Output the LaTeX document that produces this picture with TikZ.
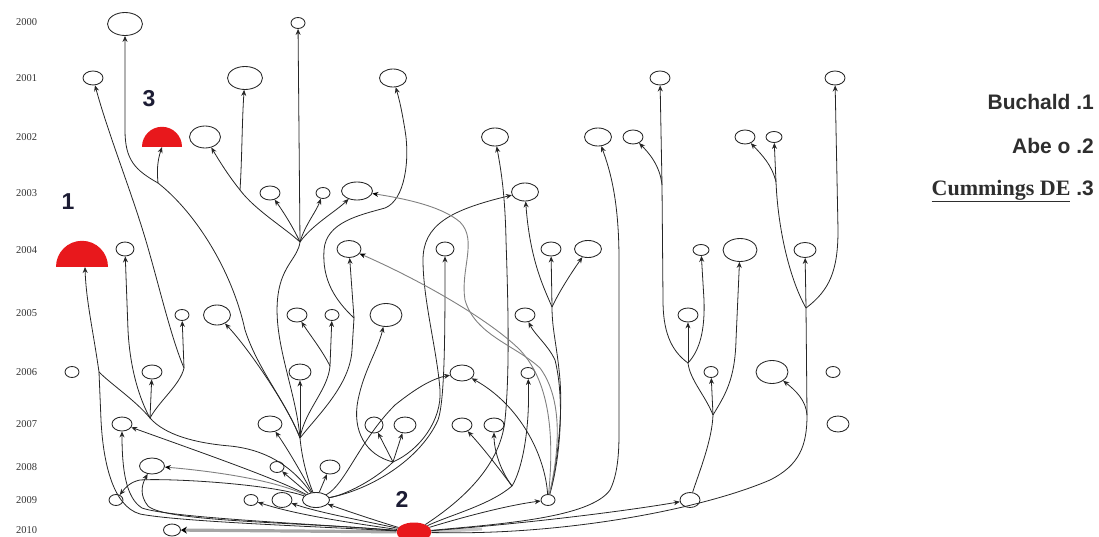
\documentclass[tikz,border=0pt]{standalone}
\usepackage{fontspec}
\usetikzlibrary{shapes.geometric,arrows.meta}
\newfontfamily\yrfont{Liberation Serif}
\newfontfamily\lgfont{Liberation Sans}
\newfontfamily\lgserif{Liberation Serif}
\definecolor{redb}{RGB}{232,24,28}
\definecolor{numc}{RGB}{28,28,52}
\begin{document}
\begin{tikzpicture}[x=1pt,y=-1pt,
  nd/.style={draw=black!85, line width=0.85pt, ellipse, inner sep=0pt, minimum width=20pt, minimum height=14pt},
  ndS/.style={nd, minimum width=14pt, minimum height=11pt},
  ndM/.style={nd, minimum width=27pt, minimum height=18pt},
  ndL/.style={nd, minimum width=35pt, minimum height=23pt},
  rn/.style={fill=redb, draw=none, ellipse, inner sep=0pt},
  rdome/.style={fill=redb, draw=none, semicircle, inner sep=0pt, anchor=south},
  ed/.style={draw=black!85, line width=0.8pt},
  ar/.style={ed, -{Stealth[length=6pt,width=5pt]}},
  ge/.style={draw=black!50, line width=0.9pt},
  gar/.style={ge, -{Stealth[length=6pt,width=5pt,black]}},
  yr/.style={font={\yrfont\fontsize{10.5}{10.5}\selectfont}, text=black!80, anchor=west, inner sep=0pt},
  lg/.style={font={\lgfont\bfseries\fontsize{21}{21}\selectfont}, text=black!82, anchor=east, inner sep=0pt},
  num/.style={font={\lgfont\bfseries\fontsize{23}{23}\selectfont}, text=numc, inner sep=0pt}
]
\useasboundingbox (0,0) rectangle (1099,537);

% year labels
\node[yr] (y2000) at (16,22) {2000};
\node[yr] (y2001) at (16,78) {2001};
\node[yr] (y2002) at (16,137) {2002};
\node[yr] (y2003) at (16,193) {2003};
\node[yr] (y2004) at (16,250) {2004};
\node[yr] (y2005) at (16,313) {2005};
\node[yr] (y2006) at (16,372) {2006};
\node[yr] (y2007) at (16,424) {2007};
\node[yr] (y2008) at (16,467) {2008};
\node[yr] (y2009) at (16,500) {2009};
\node[yr] (y2010) at (16,530) {2010};

% legend
\node[lg] (lg1) at (1094,102) {Buchald .1};
\node[lg] (lg2) at (1094,146) {Abe o .2};
\node[lg] (lg3) at (1094,191) {{\lgserif\bfseries\fontsize{22}{22}\selectfont\underline{Cummings DE}} .3};

% red highlighted nodes
\node[rdome, minimum width=52pt] (R1) at (82,267) {};
\node[rdome, minimum width=40pt] (R3) at (162,147) {};
\node[rn, minimum width=35pt, minimum height=19pt] (R2) at (414,532) {};
\node[num] (t1) at (68,202) {1};
\node[num] (t3) at (149,99) {3};
\node[num] (t2) at (402,499) {2};

% nodes
\node[ndL] (a00) at (125,24) {};
\node[ndS] (b00) at (298,23) {};
\node[nd]  (a01) at (93,78) {};
\node[ndL] (b01) at (245,78) {};
\node[ndM] (c01) at (393,78) {};
\node[nd]  (d01) at (660,78) {};
\node[nd]  (e01) at (835,78) {};
\node[ndM, minimum width=31pt, minimum height=22pt] (a02) at (205,137) {};
\node[ndM] (b02) at (495,137) {};
\node[ndM] (c02) at (598,137) {};
\node[nd]  (d02) at (633,137) {};
\node[nd]  (e02) at (745,137) {};
\node[ndS, minimum width=16pt] (f02) at (774,137) {};
\node[nd]  (a03) at (270,193) {};
\node[ndS] (b03) at (323,193) {};
\node[ndM, minimum width=31pt] (c03) at (357,191) {};
\node[ndM] (d03) at (525,192) {};
\node[nd, minimum width=18pt] (a04) at (125,249) {};
\node[nd, minimum width=24pt, minimum height=17pt] (b04) at (349,249) {};
\node[nd, minimum width=18pt] (c04) at (445,249) {};
\node[nd]  (d04) at (551,249) {};
\node[ndM, minimum height=17pt] (e04) at (588,249) {};
\node[ndS, minimum width=16pt] (f04) at (701,250) {};
\node[ndL, minimum width=34pt] (h04) at (740,250) {};
\node[nd, minimum width=22pt, minimum height=15pt] (g04) at (805,250) {};
\node[ndS] (a05) at (182,315) {};
\node[ndM, minimum height=20pt] (b05) at (217,315) {};
\node[nd]  (c05) at (297,315) {};
\node[ndS] (d05) at (332,315) {};
\node[ndL, minimum width=32pt] (e05) at (386,315) {};
\node[nd]  (f05) at (525,315) {};
\node[nd]  (g05) at (688,315) {};
\node[ndS] (a06) at (72,372) {};
\node[nd]  (b06) at (152,372) {};
\node[nd, minimum width=22pt, minimum height=16pt] (c06) at (300,372) {};
\node[nd, minimum width=24pt, minimum height=16pt] (d06) at (462,373) {};
\node[ndS] (e06) at (528,373) {};
\node[ndS] (h06) at (711,372) {};
\node[ndL, minimum width=32pt] (i06) at (772,372) {};
\node[ndS] (j06) at (833,372) {};
\node[nd]  (a07) at (122,424) {};
\node[nd, minimum width=24pt, minimum height=16pt] (b07) at (270,424) {};
\node[nd, minimum width=18pt, minimum height=16pt] (c07) at (374,425) {};
\node[nd, minimum width=22pt, minimum height=16pt] (d07) at (405,425) {};
\node[nd]  (e07) at (462,425) {};
\node[nd]  (f07) at (494,425) {};
\node[nd, minimum width=22pt, minimum height=16pt] (k07) at (838,424) {};
\node[nd, minimum width=25pt, minimum height=16pt] (a08) at (152,466) {};
\node[ndS] (b08) at (277,467) {};
\node[nd]  (c08) at (330,467) {};
\node[ndS] (a09) at (116,500) {};
\node[ndS] (b09) at (251,500) {};
\node[nd, minimum height=15pt] (c09) at (282,500) {};
\node[ndM, minimum height=15pt] (H) at (316,500) {};
\node[ndS] (e09) at (548,500) {};
\node[nd, minimum height=15pt] (f09) at (690,500) {};
\node[nd, minimum width=17pt, minimum height=12pt] (a10) at (172,530) {};

% junctions
\coordinate (JT) at (300,438);
\coordinate (JU) at (300,242);
\coordinate (JV) at (240,190);
\coordinate (J5) at (330,366);
\coordinate (JL) at (150,418);
\coordinate (JA) at (184,368);
\coordinate (JR) at (99,372);
\coordinate (JW) at (158,183);
\coordinate (JC) at (354,318);
\coordinate (J7) at (393,462);
\coordinate (J8) at (512,486);
\coordinate (JE) at (552,307);
\coordinate (JM1) at (713,415);
\coordinate (JM2) at (688,363);
\coordinate (JM3) at (662,185);
\coordinate (JR1) at (807,415);
\coordinate (JR2) at (806,308);
\coordinate (JR3) at (776,182);
\coordinate (stub) at (482,529);

% thick bottom edge
\draw[line width=3.2pt, draw=black!35, -{Stealth[length=6pt,width=7pt,black]}] (R2) -- (a10);
\draw[line width=3pt, draw=black!22] (R2.east) -- (stub);

% hub trunk
\draw[ed] (H) .. controls (308,480) and (302,460) .. (JT);
\draw[ar] (JT) -- (c06);
\draw[ed] (JT) .. controls (305,410) and (328,390) .. (J5);
\draw[ar] (J5) .. controls (322,350) and (310,335) .. (c05);
\draw[ar] (J5) -- (d05);
\draw[ar] (JT) .. controls (290,410) and (250,350) .. (b05);
\draw[ed] (JT) .. controls (285,400) and (258,370) .. (245,330) .. controls (232,270) and (195,212) .. (JW);
\draw[ar] (JW) .. controls (135,170) and (125,160) .. (125,130) -- (a00);
\draw[ar] (JW) .. controls (157,172) and (157,162) .. (R3.south);
\draw[ed] (JT) .. controls (296,390) and (272,340) .. (278,295) .. controls (282,265) and (298,258) .. (JU);
\draw[ar] (JU) -- (b00);
\draw[ar] (JU) .. controls (292,225) and (282,210) .. (a03);
\draw[ar] (JU) .. controls (305,225) and (316,212) .. (b03);
\draw[ar] (JU) .. controls (312,225) and (335,212) .. (c03);
\draw[ed] (JU) .. controls (285,228) and (255,210) .. (JV);
\draw[ar] (JV) .. controls (228,175) and (220,162) .. (a02);
\draw[ar] (JV) .. controls (242,160) and (242,120) .. (b01);
\draw[ed] (JT) .. controls (318,415) and (350,385) .. (352,350) -- (JC);
\draw[ar] (JC) -- (b04);
\draw[ar] (JC) .. controls (335,300) and (322,280) .. (324,250) .. controls (326,222) and (360,215) .. (385,208) .. controls (405,200) and (410,160) .. (405,130) .. controls (402,112) and (400,102) .. (c01);

% left group
\draw[ed] (H) .. controls (295,470) and (270,450) .. (230,446) .. controls (195,443) and (165,435) .. (JL);
\draw[ar] (JL) -- (b06);
\draw[ed] (JL) .. controls (160,400) and (180,385) .. (JA);
\draw[ar] (JA) -- (a05);
\draw[ar] (JA) .. controls (172,340) and (160,290) .. (150,255) .. controls (135,200) and (110,140) .. (a01);
\draw[ar] (JL) .. controls (140,400) and (130,370) .. (128,330) -- (a04);
\draw[ed] (JL) .. controls (135,400) and (112,385) .. (JR);
\draw[ar] (JR) .. controls (93,330) and (86,300) .. (85,267);
\draw[ed] (R2) .. controls (330,527) and (180,522) .. (140,514) .. controls (112,506) and (103,460) .. (101,420) -- (JR);
\draw[ar] (R2) .. controls (320,524) and (170,518) .. (142,508) .. controls (126,498) and (122,470) .. (a07);
\draw[ar] (H) .. controls (280,480) and (200,452) .. (a07);
\draw[gar] (H) .. controls (270,478) and (200,470) .. (a08);
\draw[ar] (H) .. controls (270,484) and (170,478) .. (140,480) .. controls (130,482) and (125,488) .. (a09);
\draw[ar] (R2) .. controls (300,522) and (165,522) .. (148,506) .. controls (140,496) and (141,486) .. (a08);
\draw[ar] (R2) .. controls (360,524) and (300,516) .. (b09);
\draw[ar] (R2) .. controls (370,522) and (320,513) .. (c09);
\draw[ar] (R2) .. controls (380,522) and (350,512) .. (H);
\draw[ar] (H) -- (b08);
\draw[ar] (H) -- (c08);
\draw[ar] (H) .. controls (300,470) and (285,445) .. (b07);

% centre group
\draw[ar] (H) .. controls (345,485) and (360,440) .. (395,405) .. controls (420,385) and (435,378) .. (d06);
\draw[ed] (H) .. controls (345,495) and (375,480) .. (J7);
\draw[ar] (J7) -- (c07);
\draw[ar] (J7) -- (d07);
\draw[ar] (J7) .. controls (365,455) and (352,430) .. (358,400) .. controls (364,370) and (378,350) .. (e05);
\draw[ar] (J7) .. controls (420,450) and (442,420) .. (440,390) .. controls (437,350) and (423,300) .. (423,260) .. controls (423,225) and (450,210) .. (d03);
\draw[ar] (H) .. controls (370,490) and (420,460) .. (438,420) .. controls (445,400) and (445,330) .. (c04);
\draw[ed] (R2) .. controls (450,515) and (490,505) .. (J8);
\draw[ar] (J8) .. controls (500,470) and (485,450) .. (e07);
\draw[ar] (J8) .. controls (500,470) and (494,450) .. (f07);
\draw[ar] (J8) .. controls (522,470) and (530,430) .. (e06);
\draw[ar] (R2) .. controls (455,505) and (500,470) .. (505,420) .. controls (510,370) and (508,300) .. (506,240) .. controls (505,190) and (500,165) .. (b02);
\draw[ar] (R2) .. controls (470,515) and (510,505) .. (e09);
\draw[ar] (e09) .. controls (545,455) and (520,405) .. (d06);
\draw[ed] (e09) .. controls (556,470) and (563,420) .. (560,380) .. controls (557,345) and (552,330) .. (JE);
\draw[ar] (e09) .. controls (560,460) and (565,400) .. (555,360) .. controls (548,345) and (535,335) .. (f05);
\draw[ar] (JE) -- (d04);
\draw[ar] (JE) .. controls (560,290) and (572,272) .. (e04);
\draw[ar] (JE) .. controls (545,290) and (530,262) .. (d03);
\draw[gar] (e09) .. controls (562,440) and (560,395) .. (540,368) .. controls (515,345) and (475,335) .. (465,300) .. controls (460,270) and (478,240) .. (460,222) .. controls (440,205) and (400,198) .. (c03);
\draw[gar] (e09) .. controls (555,430) and (548,380) .. (520,350) .. controls (490,320) and (420,280) .. (b04);

% right groups
\draw[ar] (R2) .. controls (500,524) and (590,518) .. (610,490) .. controls (620,470) and (619,440) .. (619,420) -- (619,260) .. controls (619,200) and (610,170) .. (c02);
\draw[ar] (R2) .. controls (520,524) and (620,512) .. (f09);
\draw[ed] (f09) .. controls (700,470) and (712,440) .. (JM1);
\draw[ar] (JM1) -- (h06);
\draw[ar] (JM1) .. controls (725,395) and (735,380) .. (736,340) -- (h04);
\draw[ed] (JM1) .. controls (705,395) and (690,380) .. (JM2);
\draw[ar] (JM2) -- (g05);
\draw[ar] (JM2) .. controls (700,350) and (705,330) .. (704,300) -- (f04);
\draw[ed] (JM2) .. controls (670,350) and (663,330) .. (663,300) -- (JM3);
\draw[ar] (JM3) -- (d01);
\draw[ar] (JM3) .. controls (660,165) and (648,152) .. (d02);
\draw[ed] (R2) .. controls (560,536) and (700,510) .. (770,480) .. controls (800,465) and (807,445) .. (JR1);
\draw[ar] (JR1) .. controls (806,400) and (795,390) .. (i06);
\draw[ed] (JR1) -- (JR2);
\draw[ar] (JR2) -- (g04);
\draw[ar] (JR2) .. controls (830,290) and (838,270) .. (838,230) -- (e01);
\draw[ed] (JR2) .. controls (790,280) and (778,230) .. (JR3);
\draw[ar] (JR3) .. controls (772,165) and (762,155) .. (e02);
\draw[ar] (JR3) -- (f02);
\end{tikzpicture}
\end{document}
